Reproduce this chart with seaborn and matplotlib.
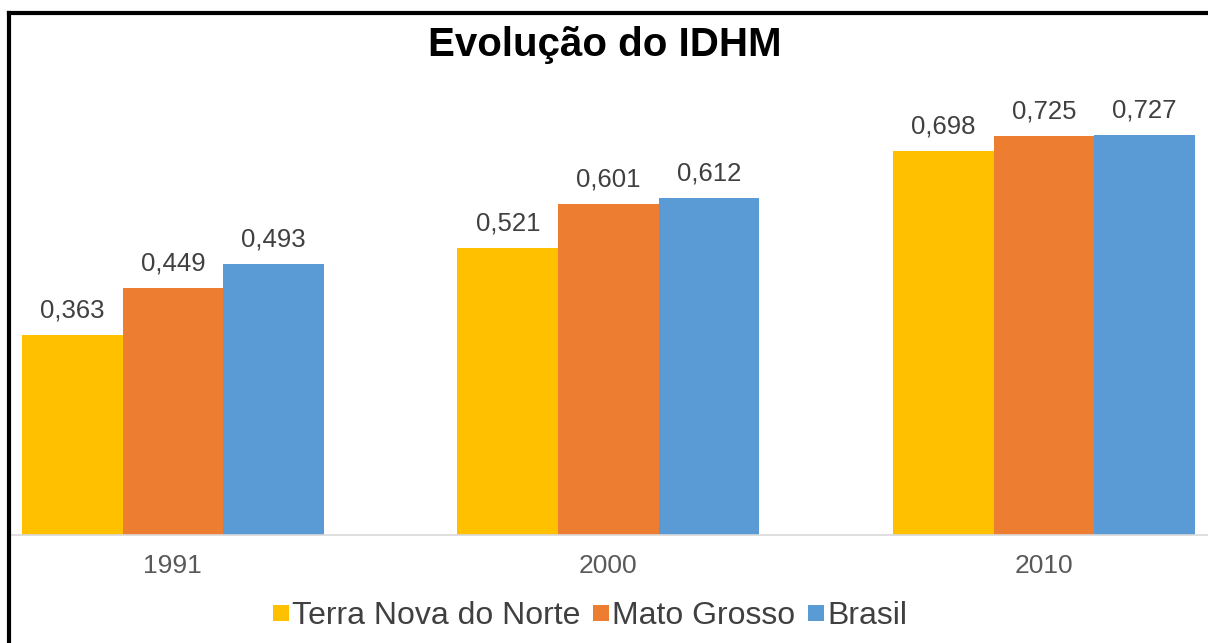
import pandas as pd
import numpy as np
import matplotlib
matplotlib.use('Agg')
import matplotlib.pyplot as plt
from matplotlib.lines import Line2D
import seaborn as sns

# Data
years = ['1991', '2000', '2010']
terra_nova = [0.363, 0.521, 0.698]
mato_grosso = [0.449, 0.601, 0.725]
brasil = [0.493, 0.612, 0.727]
series_names = ['Terra Nova do Norte', 'Mato Grosso', 'Brasil']
colors = ['#FFC000', '#ED7D31', '#5B9BD5']

df = pd.DataFrame({
    'ano': years * 3,
    'idhm': terra_nova + mato_grosso + brasil,
    'local': [n for n in series_names for _ in years],
})

sns.set_theme(style='white')
plt.rcParams['font.family'] = ['Liberation Sans', 'DejaVu Sans']

W, H = 1208, 643
fig = plt.figure(figsize=(W / 100, H / 100), dpi=100)
ax = fig.add_axes([10 / W, 108 / H, 1198 / W, 445 / H])

sns.barplot(data=df, x='ano', y='idhm', hue='local', hue_order=series_names,
            palette=colors, width=0.693, saturation=1, legend=False, ax=ax,
            linewidth=0)

ax.set_xlim(-0.374, 2.377)
ax.set_ylim(0, 445 / 550)

# value labels
for cont in ax.containers:
    labels = [f'{v:.3f}'.replace('.', ',') for v in cont.datavalues]
    ax.bar_label(cont, labels=labels, padding=9, fontsize=18.5, color='#404040')

ax.set_xlabel('')
ax.set_ylabel('')
ax.set_yticks([])
ax.tick_params(axis='x', length=0, pad=14, labelsize=19, labelcolor='#595959')
for s in ['top', 'right', 'left']:
    ax.spines[s].set_visible(False)
ax.spines['bottom'].set_color('#D9D9D9')
ax.spines['bottom'].set_linewidth(1.2)

fig.text(605 / W, 1 - 45 / H, 'Evolução do IDHM', ha='center', va='center',
         fontsize=29, fontweight='bold', color='black')

handles = [Line2D([0], [0], marker='s', linestyle='', markersize=11,
                  markerfacecolor=c, markeredgewidth=0) for c in colors]
fig.legend(handles, series_names, loc='center', bbox_to_anchor=(590 / W, 1 - 616 / H),
           ncol=3, frameon=False, fontsize=23, handlelength=0.5, handletextpad=0.1,
           columnspacing=0.4, labelcolor='#404040', borderaxespad=0)

# black frame around the chart (left and top edges visible)
fig.add_artist(Line2D([9 / W, 9 / W], [0, 1 - 13 / H], color='black', linewidth=3,
                      transform=fig.transFigure, solid_capstyle='projecting'))
fig.add_artist(Line2D([9 / W, 1], [1 - 13 / H, 1 - 13 / H], color='black', linewidth=3,
                      transform=fig.transFigure, solid_capstyle='projecting'))

fig.savefig('out.png', dpi=100)
